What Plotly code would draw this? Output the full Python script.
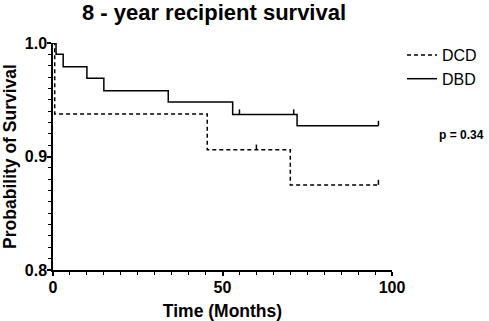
import plotly.graph_objects as go

# Kaplan-Meier step data (time in months, survival probability)
dcd_time = [0, 0.5, 45.5, 70, 96]
dcd_surv = [1.0, 0.9375, 0.906, 0.875, 0.875]
dcd_censor_time = [60, 96]
dcd_censor_surv = [0.906, 0.875]

dbd_time = [0, 0.9, 3, 10, 15, 34, 53, 72, 96]
dbd_surv = [1.0, 0.99, 0.979, 0.969, 0.958, 0.948, 0.937, 0.927, 0.927]
dbd_censor_time = [55, 71, 96]
dbd_censor_surv = [0.937, 0.937, 0.927]

series_names = ["DCD", "DBD"]
p_text = "p = 0.34"
title_text = "8 - year recipient survival"

FONT = "Arial, Liberation Sans, Helvetica, sans-serif"
tick_len = 0.0045

L, R, T, B = 53, 97, 43, 51
W, H = 489, 321
PW, PH = W - L - R, H - T - B

fig = go.Figure()

fig.add_trace(go.Scatter(x=dcd_time, y=dcd_surv, mode="lines", line_shape="hv",
                         line=dict(color="black", width=1.5, dash="4px,3px"),
                         name=series_names[0]))
fig.add_trace(go.Scatter(x=dbd_time, y=dbd_surv, mode="lines", line_shape="hv",
                         line=dict(color="black", width=1.5),
                         name=series_names[1]))

for ct, cs in [(dcd_censor_time, dcd_censor_surv), (dbd_censor_time, dbd_censor_surv)]:
    fig.add_trace(go.Scatter(
        x=ct, y=cs, mode="markers", marker=dict(size=1, color="black", opacity=0),
        error_y=dict(type="data", symmetric=False, array=[tick_len] * len(ct),
                     arrayminus=[0] * len(ct), width=0, thickness=1.5, color="black"),
        showlegend=False, hoverinfo="skip"))

fig.update_layout(
    width=W, height=H,
    margin=dict(l=L, r=R, t=T, b=B, autoexpand=False),
    paper_bgcolor="white", plot_bgcolor="white",
    font=dict(family=FONT, color="black"),
    title=dict(text=f"<b>{title_text}</b>", x=214 / W, xanchor="center",
               y=1 - 12 / H, yanchor="middle", font=dict(size=22, family=FONT)),
    legend=dict(x=(402 - L) / PW, y=1 + 5 / PH, xanchor="left", yanchor="top",
                font=dict(size=16, family=FONT), bgcolor="rgba(0,0,0,0)",
                tracegroupgap=0),
    showlegend=True,
)

fig.update_xaxes(range=[0, 100], tickvals=[0, 50, 100], ticktext=["<b>0</b>", "<b>50</b>", "<b>100</b>"],
                 showline=True, linecolor="black", linewidth=1.5, showgrid=False, zeroline=False,
                 ticks="outside", ticklen=4, tickwidth=1.5, tickcolor="black",
                 tickfont=dict(size=16, family=FONT), automargin=False, ticklabelstandoff=-2,
                 minor=dict(dtick=5, ticks="outside", ticklen=3, tickwidth=1, tickcolor="black", showgrid=False),
                 title=dict(text="<b>Time (Months)</b>", font=dict(size=17.5, family=FONT)))
fig.update_yaxes(range=[0.8, 1.0], tickvals=[0.8, 0.9, 1.0], ticktext=["<b>0.8</b>", "<b>0.9</b>", "<b>1.0</b>"],
                 showline=True, linecolor="black", linewidth=1.5, showgrid=False, zeroline=False,
                 ticks="outside", ticklen=4, tickwidth=1.5, tickcolor="black",
                 tickfont=dict(size=16, family=FONT), automargin=False, ticklabelstandoff=-3,
                 minor=dict(dtick=0.01, ticks="outside", ticklen=3, tickwidth=1, tickcolor="black", showgrid=False),
                 title=dict(text="<b>Probability of Survival</b>", font=dict(size=17.5, family=FONT)))

fig.add_annotation(text=f"<b>{p_text}</b>", xref="paper", yref="paper",
                   x=(486 - L) / PW, y=(H - B - 135) / PH, xanchor="right", yanchor="middle",
                   showarrow=False, font=dict(size=12, family=FONT))

fig.write_html("out.html", config={"displayModeBar": False},
               post_script="document.body.style.margin='0';document.body.style.padding='0';")
